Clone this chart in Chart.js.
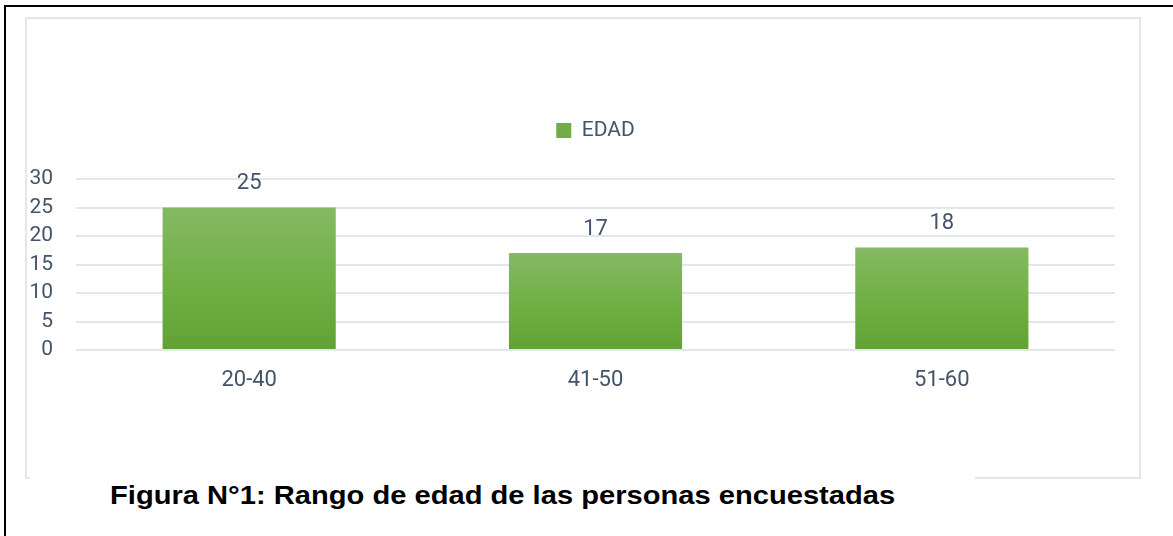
<!DOCTYPE html>
<html>
<head>
<meta charset="utf-8">
<script src="https://cdn.jsdelivr.net/npm/chart.js@4.4.0/dist/chart.umd.min.js"></script>
<style>
    html, body { margin: 0; padding: 0; background: #fff; overflow: hidden; }
    #page { position: relative; width: 1173px; height: 536px; overflow: hidden; }
    #outer { position: absolute; left: 4px; top: 5px; width: 1200px; height: 600px; border: 2px solid #000; box-sizing: border-box; }
    #frame { position: absolute; left: 25px; top: 17px; width: 1116px; height: 462px; border: 2px solid #E3E6EB; box-sizing: border-box; }
    #caption { position: absolute; left: 30px; top: 470px; width: 945px; height: 50px; background: #fff; }
    #caption span { position: absolute; left: 80px; top: 10px; font: bold 26px "Liberation Sans", Arial, sans-serif; color: #000; white-space: nowrap; transform: scaleX(1.12); transform-origin: 0 0; }
    #myChart { position: absolute; left: 0; top: 0; }
</style>
</head>
<body>
<div id="page">
    <div id="outer"></div>
    <div id="frame"></div>
    <canvas id="myChart" width="1173" height="536"></canvas>
    <div id="caption"><span>Figura N°1: Rango de edad de las personas encuestadas</span></div>
</div>
<script>
var categorias = ['20-40', '41-50', '51-60'];
var edad = [25, 17, 18];
var ticksY = [0, 5, 10, 15, 20, 25, 30];

var fuente = 'Roboto, "Noto Sans", sans-serif';
var gris = '#44546A';

// etiquetas de valor encima de cada barra
var etiquetas = {
    id: 'etiquetas',
    afterDatasetsDraw: function(chart) {
        var ctx = chart.ctx;
        ctx.save();
        ctx.font = '22px ' + fuente;
        ctx.fillStyle = gris;
        ctx.textAlign = 'center';
        ctx.textBaseline = 'middle';
        chart.getDatasetMeta(0).data.forEach(function(bar, i) {
            ctx.fillText(chart.data.datasets[0].data[i], bar.x, bar.y - 24);
        });
        ctx.restore();
    }
};

// mas espacio entre la leyenda y el grafico
var espacioLeyenda = {
    id: 'espacioLeyenda',
    afterInit: function(chart) {
        var fit = chart.legend.fit;
        chart.legend.fit = function() {
            fit.call(this);
            this.height += 28;
        };
    }
};

function degradado(context) {
    var chart = context.chart;
    if (!chart.chartArea || context.dataIndex === undefined) {
        return '#70AD47';
    }
    var y = chart.scales.y;
    var top = y.getPixelForValue(context.raw);
    var bottom = y.getPixelForValue(0);
    var g = chart.ctx.createLinearGradient(0, top, 0, bottom);
    g.addColorStop(0, '#85B964');
    g.addColorStop(0.5, '#71B045');
    g.addColorStop(1, '#62A133');
    return g;
}

var ctx = document.getElementById('myChart');
var myChart = new Chart(ctx, {
    type: 'bar',
    data: {
        labels: categorias,
        datasets: [{
            label: 'EDAD',
            data: edad,
            backgroundColor: degradado,
            borderWidth: 0,
            barPercentage: 0.5,
            categoryPercentage: 1
        }]
    },
    options: {
        responsive: false,
        animation: false,
        layout: {
            padding: { top: 86, left: 25, right: 58, bottom: 141 }
        },
        plugins: {
            legend: {
                position: 'top',
                fullSize: false,
                labels: {
                    boxWidth: 15,
                    boxHeight: 15,
                    padding: 34,
                    color: gris,
                    font: { family: fuente, size: 21 },
                    generateLabels: function(chart) {
                        return [{ text: 'EDAD', fillStyle: '#70AD47', strokeStyle: '#70AD47', lineWidth: 0, datasetIndex: 0, fontColor: gris }];
                    }
                }
            },
            tooltip: { enabled: false }
        },
        scales: {
            x: {
                afterFit: function(scale) { scale.height = 45; },
                grid: { display: false, drawTicks: false },
                border: { display: false },
                ticks: { color: gris, padding: 17, font: { family: fuente, size: 22 } }
            },
            y: {
                min: 0,
                max: 30,
                afterFit: function(scale) { scale.width = 51; },
                afterBuildTicks: function(scale) {
                    scale.ticks = ticksY.map(function(v) { return { value: v }; });
                },
                grid: { color: '#E3E6EB', lineWidth: 2, drawTicks: false },
                border: { display: false },
                ticks: { color: gris, padding: 23, autoSkip: false, font: { family: fuente, size: 21 } }
            }
        }
    },
    plugins: [etiquetas, espacioLeyenda]
});
</script>
</body>
</html>
